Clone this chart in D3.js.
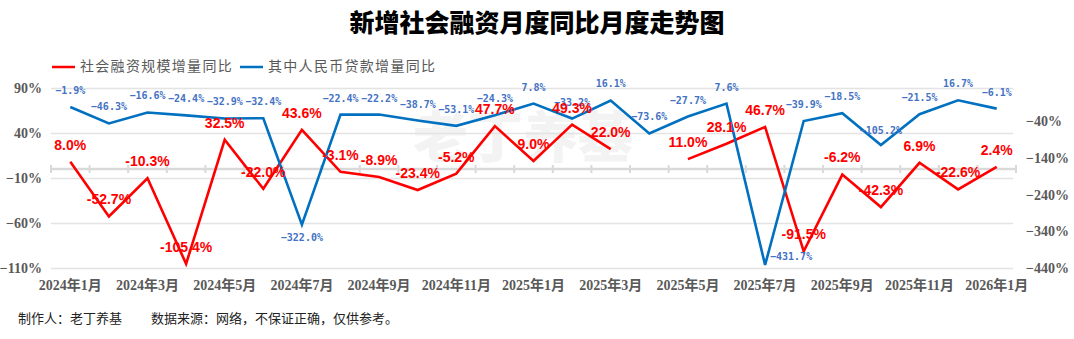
<!DOCTYPE html>
<html><head><meta charset="utf-8">
<script src="https://cdn.jsdelivr.net/npm/d3@7/dist/d3.min.js"></script>
<style>
body{margin:0;background:#fff;}
svg{display:block;}
</style></head>
<body>
<svg id="chart" width="1074" height="339"></svg>
<script>
const months = ["2024年1月","2024年2月","2024年3月","2024年4月","2024年5月","2024年6月","2024年7月","2024年8月","2024年9月","2024年10月","2024年11月","2024年12月","2025年1月","2025年2月","2025年3月","2025年4月","2025年5月","2025年6月","2025年7月","2025年8月","2025年9月","2025年10月","2025年11月","2025年12月","2026年1月"];
const socialFinancing = [8.0,-52.7,-10.3,-105.4,32.5,-22.0,43.6,-3.1,-8.9,-23.4,-5.2,47.7,9.0,49.3,22.0,null,11.0,28.1,46.7,-91.5,-6.2,-42.3,6.9,-22.6,2.4];
const rmbLoans = [-1.9,-46.3,-16.6,-24.4,-32.9,-32.4,-322.0,-22.4,-22.2,-38.7,-53.1,-24.3,7.8,-33.2,16.1,-73.6,-27.7,7.6,-431.7,-39.9,-18.5,-105.2,-21.5,16.7,-6.1];
const leftTicks = [90,40,-10,-60,-110];
const rightTicks = [-40,-140,-240,-340,-440];
const seriesNames = ["社会融资规模增量同比","其中人民币贷款增量同比"];

const svg = d3.select("#chart");
const X0 = 51, X1 = 1016, YT = 88, YB = 268;
const x = d3.scaleBand().domain(months).range([X0, X1]).padding(0);
const yL = d3.scaleLinear().domain([-110, 90]).range([YB, YT]);
const yR = d3.scaleLinear().domain([-440, 50]).range([YB, YT]);
const cx = m => x(m) + x.bandwidth() / 2;

// Title
svg.append("text").attr("x", 537).attr("y", 25).attr("text-anchor", "middle")
  .attr("dominant-baseline", "middle")
  .style("font-family", "'Noto Sans CJK SC'").style("font-weight", 900)
  .style("font-size", "25px").attr("fill", "#000").text("新增社会融资月度同比月度走势图");

// Legend
const leg = [{c:"#FF0000", x:52, t:seriesNames[0]}, {c:"#0070C0", x:240, t:seriesNames[1]}];
leg.forEach(l => {
  svg.append("line").attr("x1", l.x).attr("x2", l.x + 23).attr("y1", 67).attr("y2", 67)
    .attr("stroke", l.c).attr("stroke-width", 2.5);
  svg.append("text").attr("x", l.x + 28).attr("y", 67).attr("dominant-baseline", "middle")
    .style("font-family", "'Noto Sans CJK SC'").style("font-size", "14px")
    .style("letter-spacing", "1.3px").attr("fill", "#595959").text(l.t);
});

// Watermark
svg.append("text").attr("x", 523).attr("y", 142).attr("text-anchor", "middle")
  .attr("dominant-baseline", "middle")
  .style("font-family", "'Noto Sans CJK SC'").style("font-weight", 900)
  .style("font-size", "55px").attr("fill", "#f3f3f3").text("老丁养基");

// Gridlines (left axis)
svg.append("g").attr("transform", `translate(${X0},0)`)
  .call(d3.axisLeft(yL).tickValues(leftTicks).tickSize(-(X1 - X0 - 3)).tickFormat(""))
  .call(g => g.select(".domain").remove())
  .call(g => g.selectAll("line").attr("stroke", "#e3e3e3").attr("stroke-width", 1.5));

// Left axis labels
svg.append("g").attr("transform", `translate(42,0)`)
  .call(d3.axisLeft(yL).tickValues(leftTicks).tickSize(0).tickPadding(0)
    .tickFormat(d => (d < 0 ? "−" + Math.abs(d) : d) + "%"))
  .call(g => g.select(".domain").remove())
  .call(g => g.selectAll("text").attr("fill", "#595959")
    .style("font-family", "'Liberation Serif'").style("font-weight", "bold").style("font-size", "14px"));

// Right axis labels
svg.append("g").attr("transform", `translate(1026,0)`)
  .call(d3.axisRight(yR).tickValues(rightTicks).tickSize(0).tickPadding(0)
    .tickFormat(d => "−" + Math.abs(d) + "%"))
  .call(g => g.select(".domain").remove())
  .call(g => g.selectAll("text").attr("fill", "#595959")
    .style("font-family", "'Liberation Serif'").style("font-weight", "bold").style("font-size", "14px"));

// Zero axis line with cross ticks
const y0 = yL(0);
svg.append("line").attr("x1", X0).attr("x2", X1).attr("y1", y0).attr("y2", y0)
  .attr("stroke", "#d9d9d9").attr("stroke-width", 2.5);
svg.append("g").selectAll("line").data(d3.range(months.length + 1)).join("line")
  .attr("x1", i => X0 + i * x.step()).attr("x2", i => X0 + i * x.step())
  .attr("y1", y0 - 4).attr("y2", y0 + 4).attr("stroke", "#d9d9d9").attr("stroke-width", 2);

// X labels
svg.append("g").attr("transform", `translate(0,${YB + 17})`)
  .call(d3.axisBottom(x).tickSize(0).tickPadding(0)
    .tickValues(months.filter((m, i) => i % 2 === 0)))
  .call(g => g.select(".domain").remove())
  .call(g => g.selectAll("text").attr("dy", "0.35em").attr("y", 0).attr("fill", "#595959")
    .style("font-family", "'Liberation Serif','Noto Sans CJK SC'").style("font-weight", "bold").style("font-size", "14px"));

// Lines
const redLine = d3.line().defined(d => d.v !== null).x(d => cx(d.m)).y(d => yL(d.v));
const blueLine = d3.line().x(d => cx(d.m)).y(d => yR(d.v));
const redData = months.map((m, i) => ({m, v: socialFinancing[i]}));
const blueData = months.map((m, i) => ({m, v: rmbLoans[i]}));
svg.append("path").datum(redData).attr("d", redLine).attr("fill", "none")
  .attr("stroke", "#FF0000").attr("stroke-width", 2.6).attr("stroke-linejoin", "miter");
svg.append("path").datum(blueData).attr("d", blueLine).attr("fill", "none")
  .attr("stroke", "#0070C0").attr("stroke-width", 2.6).attr("stroke-linejoin", "miter");

// Blue labels
const blueOffset = {"2024年7月": [0, 13], "2025年7月": [26, -8], "2025年10月": [0, -15]};
svg.append("g").selectAll("text").data(blueData).join("text")
  .attr("x", d => cx(d.m) + (blueOffset[d.m] ? blueOffset[d.m][0] : 0))
  .attr("y", d => yR(d.v) + (blueOffset[d.m] ? blueOffset[d.m][1] : -16.5))
  .attr("text-anchor", "middle").attr("dy", "0.35em")
  .style("font-family", "'DejaVu Sans Mono'").style("font-weight", "bold").style("font-size", "10px")
  .attr("fill", "#4472C4")
  .text(d => (d.v < 0 ? "−" : "") + Math.abs(d.v).toFixed(1) + "%");

// Red labels
svg.append("g").selectAll("text").data(redData.filter(d => d.v !== null)).join("text")
  .attr("x", d => cx(d.m)).attr("y", d => yL(d.v) - 17)
  .attr("text-anchor", "middle").attr("dy", "0.35em")
  .style("font-family", "'Liberation Sans'").style("font-weight", "bold").style("font-size", "14px")
  .attr("fill", "#FF0000")
  .text(d => d.v.toFixed(1) + "%");

// Footer
svg.append("text").attr("x", 18).attr("y", 319).attr("dominant-baseline", "middle")
  .style("font-family", "'Noto Sans CJK SC'").style("font-size", "13px").attr("fill", "#222")
  .text("制作人：老丁养基");
svg.append("text").attr("x", 151).attr("y", 319).attr("dominant-baseline", "middle")
  .style("font-family", "'Noto Sans CJK SC'").style("font-size", "13px").attr("fill", "#222")
  .text("数据来源：网络，不保证正确，仅供参考。");
</script>
</body></html>
